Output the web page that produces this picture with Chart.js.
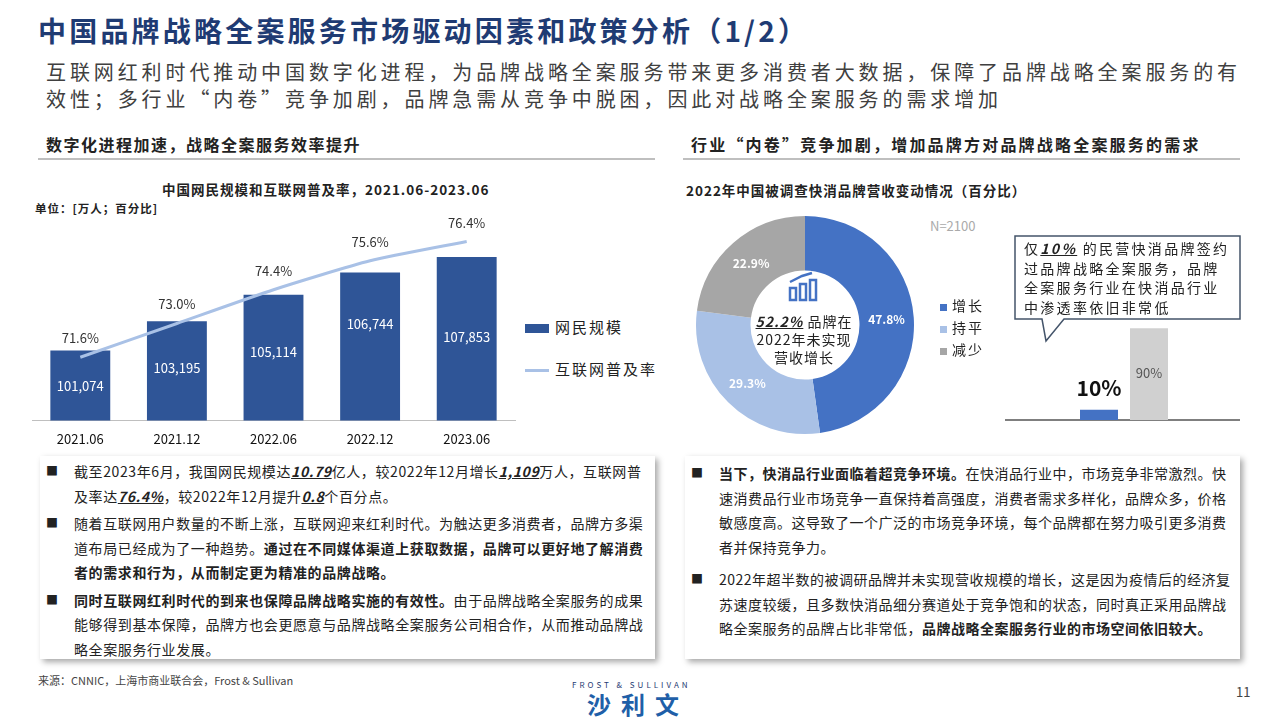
<!DOCTYPE html>
<html><head><meta charset="utf-8">
<script src="https://cdn.jsdelivr.net/npm/chart.js@4"></script>
<style>
body{margin:0;width:1280px;height:720px;position:relative;background:#fff;font-family:"Noto Sans CJK SC","Noto Sans",sans-serif;overflow:hidden;color:#222}
.a{position:absolute}
.sec{position:absolute;top:128px;height:30px;border-bottom:2px solid #bfbfbf;font-weight:bold;font-size:16px;line-height:32px;padding-left:8px;letter-spacing:1.5px}
.box{position:absolute;top:456px;height:203px;box-shadow:3px 3px 6px rgba(0,0,0,0.35);background:#fff;font-size:14px;letter-spacing:0.6px;line-height:24.5px;padding:3px 10px 0 34px;box-sizing:border-box}
.box p{margin:0;position:relative}
.box p:before{content:"■";position:absolute;left:-28px;font-size:12px}
.b{font-weight:bold}
.u{font-weight:bold;font-style:italic;text-decoration:underline}
</style></head><body>
<div class="a" style="left:38px;top:10px;font-size:28px;font-weight:bold;color:#1f3b73;letter-spacing:3.2px">中国品牌战略全案服务市场驱动因素和政策分析（1/2）</div>
<div class="a" style="left:46px;top:58px;font-size:20px;color:#404040;line-height:27px;width:1230px;letter-spacing:3.9px;white-space:nowrap">互联网红利时代推动中国数字化进程，为品牌战略全案服务带来更多消费者大数据，保障了品牌战略全案服务的有<br>效性；多行业“内卷”竞争加剧，品牌急需从竞争中脱困，因此对战略全案服务的需求增加</div>
<div class="sec" style="left:38px;width:609px">数字化进程加速，战略全案服务效率提升</div>
<div class="sec" style="left:683px;width:549px;letter-spacing:2.2px">行业“内卷”竞争加剧，增加品牌方对品牌战略全案服务的需求</div>
<div class="a" style="left:162px;top:179px;font-size:13.5px;font-weight:bold;letter-spacing:1px">中国网民规模和互联网普及率，2021.06-2023.06</div>
<div class="a" style="left:35px;top:200px;font-size:11.5px;font-weight:bold;letter-spacing:1px">单位：[万人；百分比]</div>
<div class="a" style="left:0;top:200px;width:520px;height:250px"><canvas id="c1"></canvas></div>
<div class="a" style="left:525px;top:316px;font-size:15px;letter-spacing:2px"><span style="display:inline-block;width:24px;height:9px;background:#2f5597;margin-right:6px"></span>网民规模</div>
<div class="a" style="left:525px;top:358px;font-size:15px;letter-spacing:2px"><span style="display:inline-block;width:24px;height:3px;background:#a9c1e6;margin-right:6px;vertical-align:middle"></span>互联网普及率</div>

<div class="a" style="left:686px;top:180px;font-size:13.5px;font-weight:bold;letter-spacing:1px">2022年中国被调查快消品牌营收变动情况（百分比）</div>
<div class="a" style="left:690px;top:210px;width:230px;height:230px"><canvas id="c2"></canvas></div>
<div class="a" style="left:752px;top:312px;font-size:14px;line-height:18px;text-align:center;width:104px;letter-spacing:1px"><span class="u">52.2%</span> 品牌在<br>2022年未实现<br>营收增长</div>
<svg class="a" style="left:788px;top:270px" width="32" height="32"><g fill="none" stroke="#4472c4" stroke-width="2.5"><rect x="2" y="18" width="6" height="12"/><rect x="12" y="14" width="6" height="16"/><rect x="22" y="10" width="6" height="20"/><path d="M2 12 L14 6 L24 3"/></g></svg>
<div class="a" style="left:930px;top:216px;font-size:13px;color:#aaa">N=2100</div>
<div class="a" style="left:940px;top:294px;font-size:14px;line-height:22px;letter-spacing:2px">
<div><span style="display:inline-block;width:7px;height:7px;background:#4472c4;margin-right:5px"></span>增长</div>
<div><span style="display:inline-block;width:7px;height:7px;background:#a9c1e6;margin-right:5px"></span>持平</div>
<div><span style="display:inline-block;width:7px;height:7px;background:#a6a6a6;margin-right:5px"></span>减少</div></div>
<div class="a" style="left:1005px;top:419px;width:235px;height:2px;background:#7f7f7f"></div>
<div class="a" style="left:1000px;top:318px;width:245px;height:102px"><canvas id="c3"></canvas></div>
<svg class="a" style="left:1014px;top:235px" width="230" height="110"><path d="M1 1 H226 V84 H50 L32 106 L28 84 H1 Z" fill="#fff" stroke="#44546a" stroke-width="1.5"/></svg>
<div class="a" style="left:1024px;top:239px;font-size:14px;line-height:19.5px;width:215px;letter-spacing:2.3px">仅<span class="u">10%</span> 的民营快消品牌签约<br>过品牌战略全案服务，品牌<br>全案服务行业在快消品行业<br>中渗透率依旧非常低</div>

<div class="box" style="left:40px;width:615px">
<p>截至2023年6月，我国网民规模达<span class="u">10.79</span>亿人，较2022年12月增长<span class="u">1,109</span>万人，互联网普及率达<span class="u">76.4%</span>，较2022年12月提升<span class="u">0.8</span>个百分点。</p>
<p style="margin-top:3px">随着互联网用户数量的不断上涨，互联网迎来红利时代。为触达更多消费者，品牌方多渠道布局已经成为了一种趋势。<span class="b">通过在不同媒体渠道上获取数据，品牌可以更好地了解消费者的需求和行为，从而制定更为精准的品牌战略。</span></p>
<p style="margin-top:3px"><span class="b">同时互联网红利时代的到来也保障品牌战略实施的有效性。</span>由于品牌战略全案服务的成果能够得到基本保障，品牌方也会更愿意与品牌战略全案服务公司相合作，从而推动品牌战略全案服务行业发展。</p></div>
<div class="box" style="left:685px;width:555px;letter-spacing:0.5px;padding-right:6px">
<p style="margin-top:2px"><span class="b">当下，快消品行业面临着超竞争环境。</span>在快消品行业中，市场竞争非常激烈。快速消费品行业市场竞争一直保持着高强度，消费者需求多样化，品牌众多，价格敏感度高。这导致了一个广泛的市场竞争环境，每个品牌都在努力吸引更多消费者并保持竞争力。</p>
<p style="margin-top:8px">2022年超半数的被调研品牌并未实现营收规模的增长，这是因为疫情后的经济复苏速度较缓，且多数快消品细分赛道处于竞争饱和的状态，同时真正采用品牌战略全案服务的品牌占比非常低，<span class="b">品牌战略全案服务行业的市场空间依旧较大。</span></p></div>
<div class="a" style="left:38px;top:672px;font-size:11px;color:#444">来源：CNNIC，上海市商业联合会，Frost &amp; Sullivan</div>
<div class="a" style="left:572px;top:679px;font-size:8px;letter-spacing:3px;color:#1f3b73">FROST &amp; SULLIVAN</div>
<div class="a" style="left:587px;top:686px;font-size:24px;font-weight:bold;color:#1f5fa8;letter-spacing:10px">沙利文</div>
<div class="a" style="left:1236px;top:682px;font-size:13px;color:#444">11</div>
<script>
const cats=["2021.06","2021.12","2022.06","2022.12","2023.06"];
const users=[101074,103195,105114,106744,107853];
const rate=[71.6,73.0,74.4,75.6,76.4];
const pieLabels=["增长","持平","减少"];
const pieVals=[47.8,29.3,22.9];
const penLabels=["签约","未签约"];
const penVals=[10,90];
const F='"Noto Sans CJK SC","DejaVu Sans Mono",sans-serif';
const lab1={id:'lab1',afterDatasetsDraw(c){const x=c.ctx;x.save();x.font='13px '+F;x.textAlign='center';
 c.getDatasetMeta(0).data.forEach((b,i)=>{x.fillStyle='#fff';x.fillText(users[i].toLocaleString('en-US'),b.x,b.y+[40,52,62,57,85][i]);});
 c.getDatasetMeta(1).data.forEach((p,i)=>{x.fillStyle='#333';x.fillText(rate[i].toFixed(1)+'%',p.x,p.y-14);});x.restore();}};
new Chart(document.getElementById('c1'),{data:{labels:cats,datasets:[
 {type:'bar',data:users,backgroundColor:'#2f5597',barPercentage:0.62,categoryPercentage:1,yAxisID:'y',order:2},
 {type:'line',data:rate,borderColor:'#a9c1e6',borderWidth:3,pointRadius:0,tension:0.2,yAxisID:'y2',order:1}]},
 options:{responsive:true,maintainAspectRatio:false,animation:false,layout:{padding:{left:32,right:5,top:15,bottom:0}},
 plugins:{legend:{display:false},tooltip:{enabled:false}},
 scales:{x:{grid:{display:false},border:{color:'#bfbfbf'},ticks:{color:'#111',font:{size:13,family:F}}},
 y:{display:false,min:96000,max:110910},y2:{display:false,min:68.98,max:77.5}}},plugins:[lab1]});
const lab2={id:'lab2',afterDatasetsDraw(c){const x=c.ctx;x.save();x.font='bold 12px '+F;x.fillStyle='#fff';x.textAlign='center';x.textBaseline='middle';
 c.getDatasetMeta(0).data.forEach((a,i)=>{const ang=(a.startAngle+a.endAngle)/2,r=(a.innerRadius+a.outerRadius)/2;x.fillText(pieVals[i]+'%',a.x+Math.cos(ang)*r,a.y+Math.sin(ang)*r);});x.restore();}};
new Chart(document.getElementById('c2'),{type:'doughnut',data:{labels:pieLabels,datasets:[{data:pieVals,backgroundColor:['#4472c4','#a9c1e6','#a6a6a6'],borderWidth:0}]},
 options:{responsive:true,maintainAspectRatio:false,animation:false,cutout:'50%',layout:{padding:6},plugins:{legend:{display:false},tooltip:{enabled:false}}},plugins:[lab2]});
const lab3={id:'lab3',afterDatasetsDraw(c){const x=c.ctx;x.save();x.textAlign='center';const d=c.getDatasetMeta(0).data;
 x.font='bold 21px '+F;x.fillStyle='#111';x.fillText('10%',d[0].x,d[0].y-14);
 x.font='13px '+F;x.fillStyle='#555';x.fillText('90%',d[1].x,d[1].y+50);x.restore();}};
new Chart(document.getElementById('c3'),{type:'bar',data:{labels:penLabels,datasets:[{data:penVals,backgroundColor:['#4472c4','#d0d0d0'],barPercentage:1,categoryPercentage:0.76}]},
 options:{responsive:true,maintainAspectRatio:false,animation:false,layout:{padding:{left:74,right:71,top:0,bottom:0}},plugins:{legend:{display:false},tooltip:{enabled:false}},
 scales:{x:{display:false},y:{display:false,min:0,max:100}}},plugins:[lab3]});
</script></body></html>
